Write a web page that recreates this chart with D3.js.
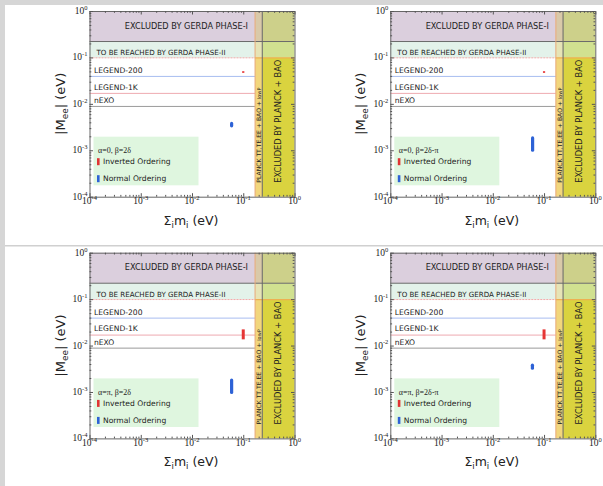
<!DOCTYPE html>
<html><head><meta charset="utf-8">
<script src="https://cdn.jsdelivr.net/npm/d3@7"></script>
<style>body{margin:0;background:#fff}svg{display:block}</style>
</head><body><svg id="c" width="603" height="486"></svg>
<script>
// ---- data ----
const panelTitles = ["α=0, β=2δ", "α=0, β=2δ-π", "α=π, β=2δ", "α=π, β=2δ-π"];
const majorTicks = [1e-4, 1e-3, 1e-2, 1e-1, 1];
const tickExponents = ["-4", "-3", "-2", "-1", "0"];
// Normal ordering region (sum of masses, |Mee| range)
const noSum = [0.0593, 0.0598, 0.0593, 0.0593];
const noMeeMin = [0.0031, 0.00093, 0.00090, 0.0030];
const noMeeMax = [0.0041, 0.0020, 0.00196, 0.0041];
// Inverted ordering region
const ioSum = [0.1, 0.1, 0.1, 0.1];
const ioMeeMin = [0.0465, 0.0465, 0.0136, 0.0136];
const ioMeeMax = [0.0505, 0.0505, 0.0223, 0.0223];
// experimental limits (eV)
const gerdaI = 0.22, gerdaII = 0.098, legend200 = 0.039, legend1K = 0.0168, nEXO = 0.0088;
const planckLowP = 0.17, planckBAO = 0.235;
const expLabels = ["LEGEND-200", "LEGEND-1K", "nEXO"];
const expValues = [legend200, legend1K, nEXO];

// ---- drawing ----
const svg = d3.select("#c");
svg.append("rect").attr("x",0).attr("y",0).attr("width",603).attr("height",5).attr("fill","#d6d6d6");
svg.append("rect").attr("x",0).attr("y",0).attr("width",5).attr("height",486).attr("fill","#d6d6d6");
svg.append("rect").attr("x",5).attr("y",245).attr("width",598).attr("height",1.5).attr("fill","#d0d0d0");

const W = 205, H = 185.7;
const origins = [[89.5, 11], [390.3, 11], [89.5, 252.7], [390.3, 252.7]];
const minorTicks = [];
for (let e = -4; e < 0; e++) for (let m = 2; m <= 9; m++) minorTicks.push(m * Math.pow(10, e));

origins.forEach(([x0, y0], i) => {
  const g = svg.append("g");
  const x = d3.scaleLog().domain([1e-4, 1]).range([x0, x0 + W]);
  const y = d3.scaleLog().domain([1e-4, 1]).range([y0 + H, y0]);
  const rect = (xa, xb, ya, yb, fill) => g.append("rect")
    .attr("x", x(xa)).attr("width", x(xb) - x(xa))
    .attr("y", y(yb)).attr("height", y(ya) - y(yb)).attr("fill", fill);

  // horizontal bands
  rect(1e-4, planckLowP, gerdaI, 1, "#dbcfdd");
  rect(1e-4, planckLowP, gerdaII, gerdaI, "#e3f2ea");
  // planck narrow band
  rect(planckLowP, planckBAO, gerdaI, 1, "#d9c9a9");
  rect(planckLowP, planckBAO, gerdaII, gerdaI, "#e6e4b6");
  rect(planckLowP, planckBAO, 1e-4, gerdaII, "#f2d67c");
  // planck + bao
  rect(planckBAO, 1, gerdaI, 1, "#cdd08a");
  rect(planckBAO, 1, gerdaII, gerdaI, "#d1e190");
  rect(planckBAO, 1, 1e-4, gerdaII, "#dad33f");

  // lines
  const hline = (v, xa, xb, col, dash, w) => g.append("line")
    .attr("x1", x(xa)).attr("x2", x(xb)).attr("y1", y(v)).attr("y2", y(v))
    .attr("stroke", col).attr("stroke-width", w || 1).attr("stroke-dasharray", dash || null);
  hline(gerdaII, 1e-4, planckLowP, "#f2aaaa", "2,1", 1);
  hline(gerdaII, planckLowP, 1, "#eeb050", null, 1.2);
  hline(legend200, 1e-4, planckLowP, "#a8bdf0");
  hline(legend1K, 1e-4, planckLowP, "#eeaab0");
  hline(nEXO, 1e-4, planckLowP, "#9a9a9a");
  hline(gerdaI, 1e-4, 1, "#6a6a6a");
  g.append("line").attr("x1", x(planckLowP)).attr("x2", x(planckLowP)).attr("y1", y(1)).attr("y2", y(1e-4))
    .attr("stroke", "#e8a878").attr("stroke-width", 1);
  g.append("line").attr("x1", x(planckBAO)).attr("x2", x(planckBAO)).attr("y1", y(1)).attr("y2", y(1e-4))
    .attr("stroke", "#666").attr("stroke-width", 1);

  // band texts
  const sans = "DejaVu Sans, sans-serif";
  g.append("text").attr("x", x(planckLowP) - 7).attr("y", y0 + 17.5).attr("text-anchor", "end")
    .attr("font-family", sans).attr("font-size", 8.2).attr("fill", "#222").text("EXCLUDED BY GERDA PHASE-I");
  g.append("text").attr("x", x0 + 7).attr("y", y0 + 44).attr("font-family", sans)
    .attr("font-size", 7.1).attr("fill", "#222").text("TO BE REACHED BY GERDA PHASE-II");
  expLabels.forEach((t, k) => {
    g.append("text").attr("x", x0 + 4.5).attr("y", y(expValues[k]) - 3.6).attr("font-family", sans)
      .attr("font-size", 7.6).attr("fill", "#222").text(t);
  });
  const cx1 = (x(planckLowP) + x(planckBAO)) / 2 + 2.2;
  const pt = g.append("text").attr("transform", `translate(${cx1},${y0 + H - 14}) rotate(-90)`)
    .attr("font-family", sans).attr("font-size", 6.1).attr("fill", "#222");
  pt.append("tspan").text("PLANCK TT,TE,EE + BAO + ");
  pt.append("tspan").attr("font-size", 5).text("lowP");
  const cx2 = (x(planckBAO) + x(1)) / 2 + 3;
  g.append("text").attr("transform", `translate(${cx2},${y0 + H - 14}) rotate(-90)`)
    .attr("font-family", sans).attr("font-size", 8.3).attr("fill", "#222").text("EXCLUDED BY PLANCK + BAO");

  // legend
  const lg = g.append("g").attr("transform", `translate(${x0 + 4},${y0 + H - 60})`);
  lg.append("rect").attr("width", 105).attr("height", 48.6).attr("fill", "#dff6df");
  lg.append("text").attr("x", 4.5).attr("y", 16.5).attr("font-family", "Liberation Serif, serif")
    .attr("font-size", 8).attr("fill", "#222").text(panelTitles[i]);
  lg.append("rect").attr("x", 3.5).attr("y", 21.5).attr("width", 2.6).attr("height", 7).attr("fill", "#e03333");
  lg.append("text").attr("x", 9.5).attr("y", 27.8).attr("font-family", sans).attr("font-size", 7.6)
    .attr("fill", "#222").text("Inverted Ordering");
  lg.append("rect").attr("x", 3.5).attr("y", 38.5).attr("width", 2.6).attr("height", 7).attr("fill", "#2d62d6");
  lg.append("text").attr("x", 9.5).attr("y", 44.8).attr("font-family", sans).attr("font-size", 7.6)
    .attr("fill", "#222").text("Normal Ordering");

  // data regions (scatter clouds drawn as thick strokes of marker width)
  const mw = 3.2;
  g.append("line").attr("x1", x(noSum[i])).attr("x2", x(noSum[i]))
    .attr("y1", y(noMeeMax[i]) + mw / 2).attr("y2", Math.max(y(noMeeMin[i]) - mw / 2, y(noMeeMax[i]) + mw / 2 + 0.1))
    .attr("stroke", "#2d62d6").attr("stroke-width", mw).attr("stroke-linecap", "round");
  g.append("line").attr("x1", x(ioSum[i])).attr("x2", x(ioSum[i]))
    .attr("y1", y(ioMeeMax[i])).attr("y2", y(ioMeeMin[i]))
    .attr("stroke", "#e63535").attr("stroke-width", i < 2 ? 2.2 : 3);

  // axes with inward ticks
  const axStyle = sel => { sel.select(".domain").attr("stroke", "#666"); sel.selectAll("line").attr("stroke", "#555"); };
  const mk = (axis, tx, ty, size, vals) => {
    const a = g.append("g").attr("transform", `translate(${tx},${ty})`)
      .call(axis.tickValues(vals).tickSizeInner(size).tickSizeOuter(0).tickFormat(""));
    axStyle(a); return a;
  };
  [[d3.axisBottom(x), 0, y0 + H], [d3.axisTop(x), 0, y0]].forEach(([ax, tx, ty]) => {
    mk(ax, tx, ty, -3.5, majorTicks);
    mk(ax.scale(x), tx, ty, -1.8, minorTicks).select(".domain").remove();
  });
  [[d3.axisLeft(y), x0, 0], [d3.axisRight(y), x0 + W, 0]].forEach(([ax, tx, ty]) => {
    mk(ax, tx, ty, -3.5, majorTicks);
    mk(ax.scale(y), tx, ty, -1.8, minorTicks).select(".domain").remove();
  });

  // tick labels
  const serif = "Liberation Serif, serif";
  majorTicks.forEach((v, k) => {
    const t = g.append("text").attr("x", x(v)).attr("y", y0 + H + 7.5).attr("text-anchor", "middle")
      .attr("font-family", serif).attr("font-size", 9.5).attr("fill", "#222");
    t.append("tspan").text("10");
    t.append("tspan").attr("font-size", 6.5).attr("dy", -4.2).text(tickExponents[k]);
    const s = g.append("text").attr("x", x0 - 2).attr("y", y(v) + 3).attr("text-anchor", "end")
      .attr("font-family", serif).attr("font-size", 9.5).attr("fill", "#222");
    s.append("tspan").text("10");
    s.append("tspan").attr("font-size", 6.5).attr("dy", -4.2).text(tickExponents[k]);
  });

  // axis titles
  const xl = g.append("text").attr("x", x0 + W / 2 - 1).attr("y", y0 + H + 28).attr("text-anchor", "middle")
    .attr("font-family", sans).attr("font-size", 12.5).attr("fill", "#222");
  xl.append("tspan").text("Σ");
  xl.append("tspan").attr("font-size", 8.5).attr("dy", 3).text("i");
  xl.append("tspan").attr("dy", -3).text("m");
  xl.append("tspan").attr("font-size", 8.5).attr("dy", 3).text("i");
  xl.append("tspan").attr("dy", -3).text(" (eV)");
  const yl = g.append("text").attr("transform", `translate(${x0 - 25},${y0 + H / 2}) rotate(-90)`)
    .attr("text-anchor", "middle").attr("font-family", sans).attr("font-size", 13).attr("fill", "#222");
  yl.append("tspan").text("|M");
  yl.append("tspan").attr("font-size", 9).attr("dy", 3).text("ee");
  yl.append("tspan").attr("dy", -3).text("| (eV)");
});
</script></body></html>
